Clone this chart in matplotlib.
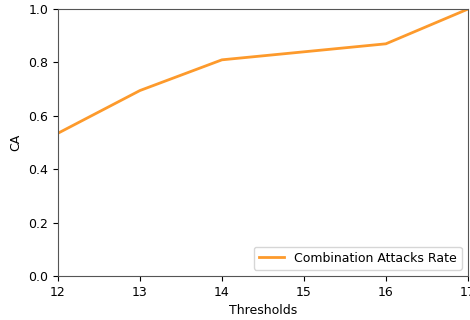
import matplotlib
matplotlib.use("Agg")
import matplotlib.pyplot as plt

thresholds = [12, 13, 14, 15, 16, 17]
ca_rate = [0.535, 0.695, 0.81, 0.84, 0.87, 1.0]

fig = plt.figure(figsize=(4.7, 3.2), dpi=100)
ax = fig.add_axes([0.1234, 0.1375, 0.872, 0.834])
ax.plot(thresholds, ca_rate, color="#fd9a2c", linewidth=2, label="Combination Attacks Rate")
ax.set_xlim(12, 17)
ax.set_ylim(0, 1.0)
ax.set_xticks(thresholds)
ax.tick_params(labelsize=9)
ax.set_xlabel("Thresholds", fontsize=9)
ax.set_ylabel("CA", fontsize=9)
ax.legend(loc="lower right", fontsize=9)
for s in ax.spines.values():
    s.set_color("#555555")

fig.savefig("out.png", dpi=100)
